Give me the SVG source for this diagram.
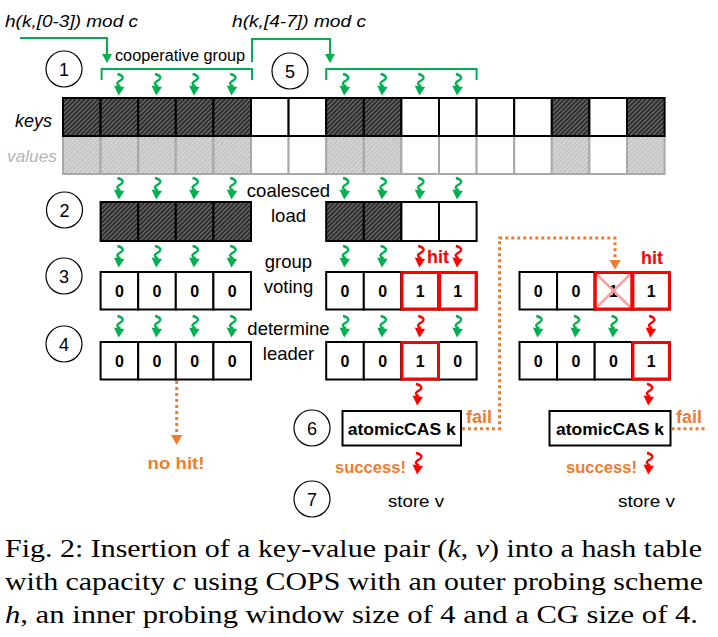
<svg xmlns="http://www.w3.org/2000/svg" xmlns:xlink="http://www.w3.org/1999/xlink" width="718" height="637" viewBox="0 0 718 637">
<style>
.lbl{font-family:"Liberation Sans",Arial,sans-serif;fill:#000}
.it{font-style:italic}
.b{font-weight:bold}
.num{font-family:"Liberation Sans",Arial,sans-serif;font-weight:bold;font-size:16px;text-anchor:middle}
.cir{fill:none;stroke:#000;stroke-width:1.2}
.cnum{font-family:"Liberation Sans",Arial,sans-serif;font-size:18px;text-anchor:middle}
.k{stroke:#000;stroke-width:2}
.v{stroke:#a8a8a8;stroke-width:2}
.w{fill:#fff}
.hk{fill:url(#hatchK)}
.hv{fill:url(#hatchV)}
.red{fill:none;stroke:#ff0000;stroke-width:3}
.org{fill:#ed7d31}
.cap{font-family:"Liberation Serif","Times New Roman",serif;font-size:25.5px}
.grn{fill:none;stroke:#00b050;stroke-width:2}
.dot{fill:none;stroke:#ed7d31;stroke-width:3;stroke-dasharray:3 3}
</style>
<defs>
<pattern id="hatchK" width="3.2" height="3.2" patternUnits="userSpaceOnUse" patternTransform="rotate(45)">
<rect width="3.2" height="3.2" fill="#2e2e2e"/>
<line x1="0.5" y1="0" x2="0.5" y2="3.2" stroke="#8c8c8c" stroke-width="0.8"/>
</pattern>
<pattern id="hatchV" width="3.2" height="3.2" patternUnits="userSpaceOnUse" patternTransform="rotate(45)">
<rect width="3.2" height="3.2" fill="#c4c4c4"/>
<line x1="0.5" y1="0" x2="0.5" y2="3.2" stroke="#e6e6e6" stroke-width="0.8"/>
</pattern>
<g id="sq">
<path d="M-2,0 C3,1 5.5,4 1,6.5 C-3.5,9 -3,10.5 1,12.5" fill="none" stroke="currentColor" stroke-width="2.3"/>
<polygon points="-5.5,11.5 5,13 -0.8,21.5" fill="currentColor"/>
</g>
</defs>
<rect width="718" height="637" fill="#fff"/>

<g id="labels">
<text class="lbl it" x="5" y="27" font-size="17" textLength="133" lengthAdjust="spacingAndGlyphs">h(k,[0-3]) mod c</text>
<text class="lbl it" x="232" y="27" font-size="17" textLength="134" lengthAdjust="spacingAndGlyphs">h(k,[4-7]) mod c</text>
<text class="lbl" x="115" y="61" font-size="16" textLength="130" lengthAdjust="spacingAndGlyphs">cooperative group</text>
<text class="lbl it" x="15" y="127" font-size="18">keys</text>
<text class="lbl it" x="7" y="162" font-size="17.3" style="fill:#b5b5b5">values</text>
<text class="lbl" x="288.5" y="197" font-size="18.5" text-anchor="middle">coalesced</text>
<text class="lbl" x="288.5" y="222" font-size="18.5" text-anchor="middle">load</text>
<text class="lbl" x="288.5" y="268" font-size="18.5" text-anchor="middle">group</text>
<text class="lbl" x="288.5" y="293" font-size="18.5" text-anchor="middle">voting</text>
<text class="lbl" x="288.5" y="335" font-size="18.5" text-anchor="middle">determine</text>
<text class="lbl" x="288.5" y="360" font-size="18.5" text-anchor="middle">leader</text>
<text class="lbl b" x="438" y="263" font-size="18" text-anchor="middle" style="fill:#ff0000">hit</text>
<text class="lbl b" x="652" y="264" font-size="18" text-anchor="middle" style="fill:#ff0000">hit</text>
<text class="lbl b" x="176" y="469" font-size="17" text-anchor="middle" textLength="57" lengthAdjust="spacingAndGlyphs" style="fill:#ed7d31">no hit!</text>
<text class="lbl b" x="466" y="423" font-size="18" style="fill:#ed7d31">fail</text>
<text class="lbl b" x="676" y="423" font-size="18" style="fill:#ed7d31">fail</text>
<text class="lbl b" x="335" y="473" font-size="16.6" textLength="71" lengthAdjust="spacingAndGlyphs" style="fill:#ed7d31">success!</text>
<text class="lbl b" x="566" y="473" font-size="16.6" textLength="71" lengthAdjust="spacingAndGlyphs" style="fill:#ed7d31">success!</text>
<text class="lbl" x="388" y="507" font-size="17" textLength="56" lengthAdjust="spacingAndGlyphs">store v</text>
<text class="lbl" x="618" y="507" font-size="17" textLength="57" lengthAdjust="spacingAndGlyphs">store v</text>
</g>

<g id="steps">
<circle class="cir" cx="64" cy="69" r="18"/><text class="cnum" x="64" y="75.5">1</text>
<circle class="cir" cx="290" cy="71" r="18"/><text class="cnum" x="290" y="77.5">5</text>
<circle class="cir" cx="64.5" cy="210" r="18"/><text class="cnum" x="64.5" y="216.5">2</text>
<circle class="cir" cx="64" cy="276" r="18"/><text class="cnum" x="64" y="282.5">3</text>
<circle class="cir" cx="64" cy="344" r="18"/><text class="cnum" x="64" y="350.5">4</text>
<circle class="cir" cx="312" cy="428" r="18"/><text class="cnum" x="312" y="434.5">6</text>
<circle class="cir" cx="312" cy="499" r="18"/><text class="cnum" x="312" y="505.5">7</text>
</g>

<g id="table">
<g id="values-row">
<rect class="v hv" x="63" y="136" width="37.6" height="38"/>
<rect class="v hv" x="100.6" y="136" width="37.6" height="38"/>
<rect class="v hv" x="138.2" y="136" width="37.6" height="38"/>
<rect class="v hv" x="175.8" y="136" width="37.6" height="38"/>
<rect class="v hv" x="213.4" y="136" width="37.6" height="38"/>
<rect class="v w" x="251" y="136" width="37.6" height="38"/>
<rect class="v w" x="288.6" y="136" width="37.6" height="38"/>
<rect class="v hv" x="326.2" y="136" width="37.6" height="38"/>
<rect class="v hv" x="363.8" y="136" width="37.6" height="38"/>
<rect class="v w" x="401.4" y="136" width="37.6" height="38"/>
<rect class="v w" x="439" y="136" width="37.6" height="38"/>
<rect class="v w" x="476.6" y="136" width="37.6" height="38"/>
<rect class="v w" x="514.2" y="136" width="37.6" height="38"/>
<rect class="v hv" x="551.8" y="136" width="37.6" height="38"/>
<rect class="v w" x="589.4" y="136" width="37.6" height="38"/>
<rect class="v hv" x="627" y="136" width="37.6" height="38"/>
</g>
<g id="keys-row">
<rect class="k hk" x="63" y="98" width="37.6" height="38"/>
<rect class="k hk" x="100.6" y="98" width="37.6" height="38"/>
<rect class="k hk" x="138.2" y="98" width="37.6" height="38"/>
<rect class="k hk" x="175.8" y="98" width="37.6" height="38"/>
<rect class="k hk" x="213.4" y="98" width="37.6" height="38"/>
<rect class="k w" x="251" y="98" width="37.6" height="38"/>
<rect class="k w" x="288.6" y="98" width="37.6" height="38"/>
<rect class="k hk" x="326.2" y="98" width="37.6" height="38"/>
<rect class="k hk" x="363.8" y="98" width="37.6" height="38"/>
<rect class="k w" x="401.4" y="98" width="37.6" height="38"/>
<rect class="k w" x="439" y="98" width="37.6" height="38"/>
<rect class="k w" x="476.6" y="98" width="37.6" height="38"/>
<rect class="k w" x="514.2" y="98" width="37.6" height="38"/>
<rect class="k hk" x="551.8" y="98" width="37.6" height="38"/>
<rect class="k w" x="589.4" y="98" width="37.6" height="38"/>
<rect class="k hk" x="627" y="98" width="37.6" height="38"/>
</g>
</g>

<g id="load-A">
<rect class="k hk" x="100.6" y="202" width="37.6" height="39"/>
<rect class="k hk" x="138.2" y="202" width="37.6" height="39"/>
<rect class="k hk" x="175.8" y="202" width="37.6" height="39"/>
<rect class="k hk" x="213.4" y="202" width="37.6" height="39"/>
</g>
<g id="load-B">
<rect class="k hk" x="326.2" y="202" width="37.6" height="39"/>
<rect class="k hk" x="363.8" y="202" width="37.6" height="39"/>
<rect class="k w" x="401.4" y="202" width="37.6" height="39"/>
<rect class="k w" x="439" y="202" width="37.6" height="39"/>
</g>

<g id="vote-A">
<rect class="k w" x="100.6" y="272" width="37.6" height="37.5"/>
<rect class="k w" x="138.2" y="272" width="37.6" height="37.5"/>
<rect class="k w" x="175.8" y="272" width="37.6" height="37.5"/>
<rect class="k w" x="213.4" y="272" width="37.6" height="37.5"/>
<text class="num" x="119.4" y="297">0</text><text class="num" x="157" y="297">0</text><text class="num" x="194.6" y="297">0</text><text class="num" x="232.2" y="297">0</text>
</g>
<g id="vote-B">
<rect class="k w" x="326.2" y="272" width="37.6" height="37.5"/>
<rect class="k w" x="363.8" y="272" width="37.6" height="37.5"/>
<rect class="k w" x="401.4" y="272" width="37.6" height="37.5"/>
<rect class="k w" x="439" y="272" width="37.6" height="37.5"/>
<rect class="red" x="402" y="272.5" width="36.5" height="36.5"/>
<rect class="red" x="439.6" y="272.5" width="36.5" height="36.5"/>
<text class="num" x="345" y="297">0</text><text class="num" x="382.6" y="297">0</text><text class="num" x="420.2" y="297">1</text><text class="num" x="457.8" y="297">1</text>
</g>
<g id="vote-C">
<rect class="k w" x="519.5" y="272" width="37.6" height="37.5"/>
<rect class="k w" x="557.1" y="272" width="37.6" height="37.5"/>
<rect class="k w" x="594.7" y="272" width="37.6" height="37.5"/>
<rect class="k w" x="632.3" y="272" width="37.6" height="37.5"/>
<text class="num" x="538.3" y="297">0</text><text class="num" x="575.9" y="297">0</text><text class="num" x="613.5" y="297">1</text><text class="num" x="651.1" y="297">1</text>
<path d="M596,273.5 L631,308 M631,273.5 L596,308" stroke="#f4a3a3" stroke-width="2.5" fill="none"/>
<rect class="red" x="595.3" y="272.5" width="36.5" height="36.5"/>
<rect class="red" x="632.9" y="272.5" width="36.5" height="36.5"/>
</g>

<g id="leader-A">
<rect class="k w" x="100.6" y="342" width="37.6" height="37.5"/>
<rect class="k w" x="138.2" y="342" width="37.6" height="37.5"/>
<rect class="k w" x="175.8" y="342" width="37.6" height="37.5"/>
<rect class="k w" x="213.4" y="342" width="37.6" height="37.5"/>
<text class="num" x="119.4" y="367">0</text><text class="num" x="157" y="367">0</text><text class="num" x="194.6" y="367">0</text><text class="num" x="232.2" y="367">0</text>
</g>
<g id="leader-B">
<rect class="k w" x="326.2" y="342" width="37.6" height="37.5"/>
<rect class="k w" x="363.8" y="342" width="37.6" height="37.5"/>
<rect class="k w" x="401.4" y="342" width="37.6" height="37.5"/>
<rect class="k w" x="439" y="342" width="37.6" height="37.5"/>
<rect class="red" x="402" y="342.5" width="36.5" height="36.5"/>
<text class="num" x="345" y="367">0</text><text class="num" x="382.6" y="367">0</text><text class="num" x="420.2" y="367">1</text><text class="num" x="457.8" y="367">0</text>
</g>
<g id="leader-C">
<rect class="k w" x="519.5" y="342" width="37.6" height="37.5"/>
<rect class="k w" x="557.1" y="342" width="37.6" height="37.5"/>
<rect class="k w" x="594.7" y="342" width="37.6" height="37.5"/>
<rect class="k w" x="632.3" y="342" width="37.6" height="37.5"/>
<rect class="red" x="632.9" y="342.5" width="36.5" height="36.5"/>
<text class="num" x="538.3" y="367">0</text><text class="num" x="575.9" y="367">0</text><text class="num" x="613.5" y="367">0</text><text class="num" x="651.1" y="367">1</text>
</g>

<g id="cas-B">
<rect x="342.5" y="411" width="118.5" height="34.5" fill="#fff" stroke="#000" stroke-width="2"/>
<text class="lbl b" x="401.7" y="435" font-size="17" text-anchor="middle" textLength="108" lengthAdjust="spacingAndGlyphs">atomicCAS k</text>
</g>
<g id="cas-C">
<rect x="549.5" y="411" width="121" height="34.5" fill="#fff" stroke="#000" stroke-width="2"/>
<text class="lbl b" x="610" y="435" font-size="17" text-anchor="middle" textLength="108" lengthAdjust="spacingAndGlyphs">atomicCAS k</text>
</g>

<g id="connectors">
<path class="grn" d="M20,38 H107 V55"/><polygon points="102,54 112,54 107,63" fill="#00b050"/>
<path class="grn" d="M252,62 V39 H330 V55"/><polygon points="325,54 335,54 330,63" fill="#00b050"/>
<path class="grn" d="M101.6,80 V69 H252 V80"/>
<path class="grn" d="M326.2,80 V69 H476.6 V80"/>

<g color="#00b050">
<use xlink:href="#sq" x="119.4" y="74"/><use xlink:href="#sq" x="157" y="74"/><use xlink:href="#sq" x="194.6" y="74"/><use xlink:href="#sq" x="232.2" y="74"/>
<use xlink:href="#sq" x="345" y="74"/><use xlink:href="#sq" x="382.6" y="74"/><use xlink:href="#sq" x="420.2" y="74"/><use xlink:href="#sq" x="457.8" y="74"/>
<use xlink:href="#sq" x="119.4" y="178"/><use xlink:href="#sq" x="157" y="178"/><use xlink:href="#sq" x="194.6" y="178"/><use xlink:href="#sq" x="232.2" y="178"/>
<use xlink:href="#sq" x="345" y="178"/><use xlink:href="#sq" x="382.6" y="178"/><use xlink:href="#sq" x="420.2" y="178"/><use xlink:href="#sq" x="457.8" y="178"/>
<use xlink:href="#sq" x="119.4" y="246"/><use xlink:href="#sq" x="157" y="246"/><use xlink:href="#sq" x="194.6" y="246"/><use xlink:href="#sq" x="232.2" y="246"/>
<use xlink:href="#sq" x="345" y="246"/><use xlink:href="#sq" x="382.6" y="246"/>
<use xlink:href="#sq" x="119.4" y="316"/><use xlink:href="#sq" x="157" y="316"/><use xlink:href="#sq" x="194.6" y="316"/><use xlink:href="#sq" x="232.2" y="316"/>
<use xlink:href="#sq" x="345" y="316"/><use xlink:href="#sq" x="382.6" y="316"/><use xlink:href="#sq" x="457.8" y="316"/>
<use xlink:href="#sq" x="538.3" y="316"/><use xlink:href="#sq" x="575.9" y="316"/><use xlink:href="#sq" x="613.5" y="316"/>
</g>
<g color="#ff0000">
<use xlink:href="#sq" x="420.2" y="246"/><use xlink:href="#sq" x="457.8" y="246"/>
<use xlink:href="#sq" x="420.2" y="316"/>
<use xlink:href="#sq" x="651.1" y="316"/>
<use xlink:href="#sq" x="418" y="384"/>
<use xlink:href="#sq" x="649" y="384"/>
<use xlink:href="#sq" x="418" y="453"/>
<use xlink:href="#sq" x="649" y="453"/>
</g>

<path class="dot" d="M176.7,381 V437"/><polygon class="org" points="171,435 182.4,435 176.7,445"/>
<path class="dot" d="M462,428.7 H499.5 V238 H615 V261"/><polygon class="org" points="609.3,260 620.7,260 615,269.5"/>
<path class="dot" d="M671.5,428.7 H705"/>
</g>

<g id="caption">
<text class="cap" x="5" y="557" textLength="697" lengthAdjust="spacingAndGlyphs">Fig. 2: Insertion of a key-value pair (<tspan font-style="italic">k</tspan>, <tspan font-style="italic">v</tspan>) into a hash table</text>
<text class="cap" x="5" y="590" textLength="698" lengthAdjust="spacingAndGlyphs">with capacity <tspan font-style="italic">c</tspan> using COPS with an outer probing scheme</text>
<text class="cap" x="5" y="623" textLength="693" lengthAdjust="spacingAndGlyphs"><tspan font-style="italic">h</tspan>, an inner probing window size of 4 and a CG size of 4.</text>
</g>
</svg>
